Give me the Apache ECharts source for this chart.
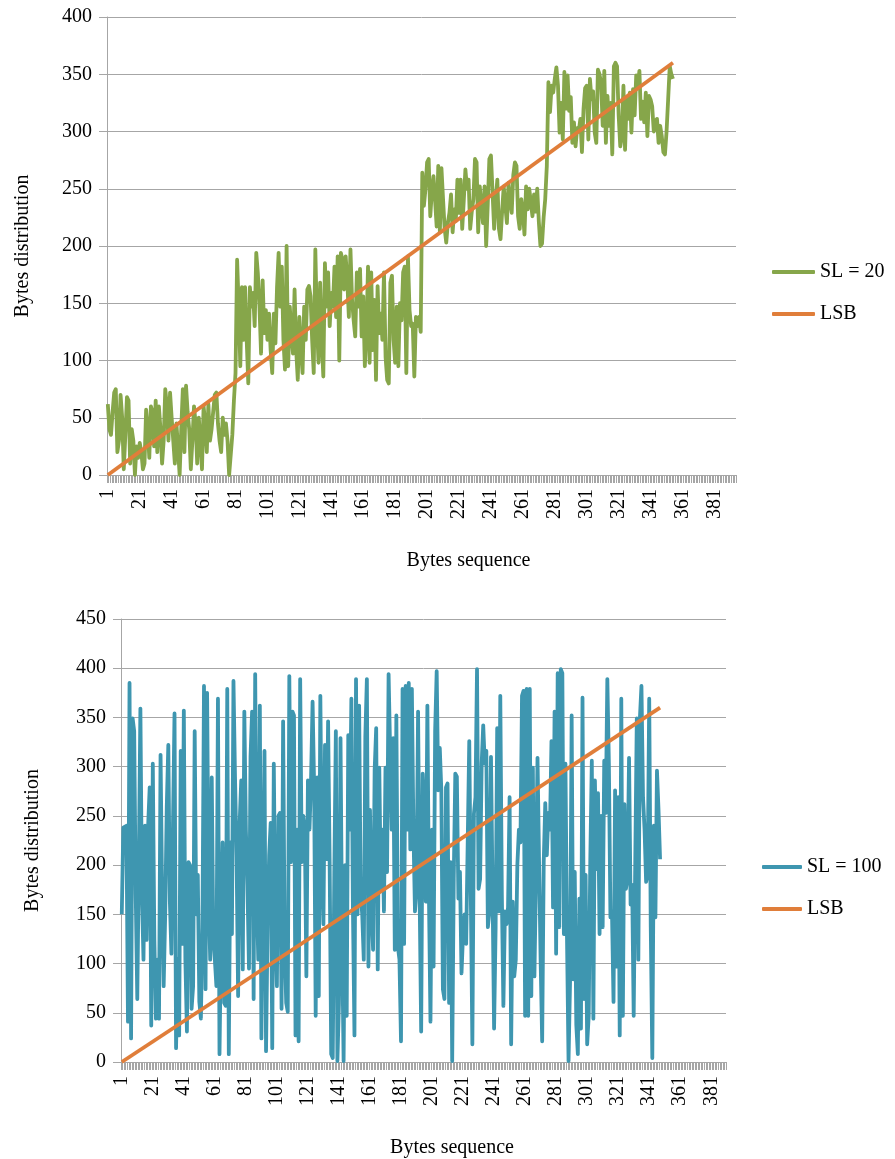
<!DOCTYPE html>
<html><head><meta charset="utf-8">
<script src="https://cdn.jsdelivr.net/npm/echarts@6/dist/echarts.min.js"></script>
<style>html,body{margin:0;padding:0;background:#fff}#c{width:895px;height:1159px}</style>
</head><body><div id="c"></div>
<script>
// ---- Data ----
const topCategoryCount = 394;     // x-axis categories (byte index) for the top chart
const bottomCategoryCount = 390;  // x-axis categories for the bottom chart
const topCategories = Array.from({length: topCategoryCount}, (_, i) => String(i + 1));
const bottomCategories = Array.from({length: bottomCategoryCount}, (_, i) => String(i + 1));

const yTicksTop = [0, 50, 100, 150, 200, 250, 300, 350, 400];
const yTicksBottom = [0, 50, 100, 150, 200, 250, 300, 350, 400, 450];

// SL = 20 (green)
const sl20 = [
  62, 40, 35, 55, 72, 75, 20, 30, 70, 50,
  5, 35, 68, 65, 10, 40, 30, 0, 25, 15,
  28, 20, 5, 10, 57, 40, 15, 60, 55, 25,
  65, 20, 60, 40, 10, 30, 75, 60, 30, 72,
  50, 30, 10, 45, 45, 0, 40, 75, 20, 78,
  55, 40, 5, 30, 60, 45, 10, 50, 30, 5,
  60, 45, 20, 62, 30, 40, 55, 70, 72, 45,
  30, 20, 50, 35, 45, 30, 0, 0, 35,
  65, 89, 188, 147, 95, 164, 118, 164, 118, 80,
  164, 147, 159, 130, 194, 176, 147, 106, 170, 124,
  144, 118, 141, 109, 89, 141, 115, 164, 194, 147,
  182, 118, 92, 200, 95, 147, 124, 106, 162, 109,
  83, 138, 109, 89, 147, 118, 162, 165, 156, 118,
  89, 197, 132, 98, 168, 118, 86, 185, 147, 177,
  130, 159, 147, 182, 138, 191, 100, 194, 188, 162,
  191, 170, 138, 197, 153, 135, 121, 177, 147, 180,
  121, 156, 95, 124, 182, 98, 177, 109, 153, 83,
  165, 124, 141, 118, 177, 103, 83, 80, 168, 174,
  118, 98, 147, 95, 150, 135, 177, 182, 89, 191,
  144, 130, 132, 86, 138, 130, 138, 125,
  264, 235, 250, 273, 276, 226, 248, 261, 240, 217,
  270, 212, 268, 241, 215, 203, 220, 229, 245, 212,
  232, 222, 258, 229, 258, 215, 240, 267, 250, 258,
  215, 230, 241, 276, 273, 212, 252, 235, 220, 252,
  200, 236, 276, 279, 247, 215, 240, 258, 215, 206,
  230, 252, 235, 220, 255, 240, 229, 262, 273, 270,
  226, 215, 241, 230, 210, 252, 232, 250, 238, 226,
  245, 230, 250, 221, 200, 202, 225, 241, 270,
  343, 317, 340, 334, 346, 356, 340, 299, 325, 293,
  352, 320, 349, 318, 330, 290, 308, 287, 303, 300,
  311, 282, 320, 338, 340, 293, 346, 328, 335, 299,
  290, 354, 350, 342, 305, 353, 290, 331, 305, 325,
  280, 357, 360, 357, 314, 287, 295, 340, 284, 328,
  311, 334, 299, 337, 314, 349, 340, 353, 311, 326,
  308, 334, 296, 331, 328, 322, 300, 309, 311, 290,
  305, 296, 282, 280, 300, 328, 357, 350, 346
];

// SL = 100 (blue)
const sl100 = [
  150, 238, 236, 240, 41, 385, 24, 349, 336, 170,
  64, 203, 359, 170, 104, 240, 124, 240, 279, 37,
  303, 124, 44, 104, 44, 312, 170, 77, 150, 259,
  322, 163, 110, 240, 354, 14, 104, 27, 316, 120,
  357, 104, 31, 203, 200, 54, 77, 336, 150, 190,
  61, 44, 137, 382, 74, 375, 170, 104, 289, 124,
  104, 77, 369, 8, 130, 223, 60, 57, 379, 8,
  223, 130, 387, 289, 210, 67, 243, 286, 94, 356,
  236, 180, 95, 310,
  356, 64, 394, 170, 104, 362, 24, 170, 316, 11,
  140, 210, 243, 14, 303, 137, 77, 250, 253, 54,
  346, 120, 60, 51, 392, 203, 356, 352, 27, 236,
  21, 389, 203, 250, 236, 87, 286, 236, 286, 366,
  280, 47, 289, 67, 372, 203, 140, 322, 206, 346,
  203, 8, 4, 190, 336, 1, 60, 329, 130, 1,
  200, 47, 332, 236, 369, 157, 27, 389, 150, 362,
  170, 150, 104, 330, 389, 97, 256, 157, 114, 296,
  339, 94, 299, 175, 236, 153, 299, 193, 394,
  392, 236, 329, 114, 352, 117, 104, 21, 379, 120,
  382, 236, 385, 216, 379, 236, 153, 176, 356, 170,
  31, 293, 250, 163, 362, 170, 41, 236, 97, 336,
  397, 276, 319, 276, 74, 64, 279, 283, 60, 203,
  1, 186, 293, 290, 166, 193, 90, 130, 150, 120,
  120, 326, 170, 18, 252, 269, 399, 176, 186, 303,
  342, 303, 316, 137, 153, 310, 176, 34, 137, 339,
  153, 372, 170, 57, 153, 140, 157, 269, 18, 163,
  87, 104, 200, 236, 223, 372, 377, 47, 379,
  47, 379, 67, 299, 87, 186, 309, 203, 104, 21,
  203, 263, 210, 253, 236, 326, 157, 356, 110, 395,
  137, 399, 395, 130, 303, 127, 1, 84, 352, 84,
  193, 38, 8, 166, 34, 370, 64, 190, 18, 47,
  203, 306, 44, 286, 196, 273, 130, 250, 137, 306,
  253, 389, 303, 147, 153, 61, 276, 97, 269, 27,
  369, 47, 262, 176, 186, 309, 160, 180, 47, 203,
  349, 104, 349, 382, 269, 236, 183, 190, 369, 137,
  4, 240, 147, 296, 256, 206
];

// LSB reference lines: straight from first to last byte
const lsbTop = [['1', 0], [String(sl20.length), 360]];
const lsbBottom = [['1', 0], [String(sl100.length), 360]];

// ---- Styles ----
const FONT = "'Liberation Serif', 'Times New Roman', serif";
const GRID = '#a6a6a6';
const GREEN = '#86a64a', ORANGE = '#e07e3a', BLUE = '#3e96b0';

function xAxis(gridIndex, cats, namePad) {
  return {
    type: 'category', gridIndex, data: cats, boundaryGap: true,
    axisLine: {lineStyle: {color: GRID, width: 1}},
    axisTick: {show: true, interval: 0, length: 8, lineStyle: {color: GRID}},
    axisLabel: {interval: 19, rotate: 90, fontFamily: FONT, fontSize: 20, color: '#000', margin: 14,
                padding: [9, 0, 0, 0]},
    name: 'Bytes sequence', nameLocation: 'middle', nameGap: 76,
    nameTextStyle: {fontFamily: FONT, fontSize: 20, color: '#000', padding: [0, 0, 0, namePad]},
    splitLine: {show: false}
  };
}
function yAxis(gridIndex, ticks, nameGap) {
  return {
    type: 'value', gridIndex, min: ticks[0], max: ticks[ticks.length - 1], interval: ticks[1] - ticks[0],
    axisLine: {show: true, lineStyle: {color: GRID}},
    axisTick: {show: true, length: 8, lineStyle: {color: GRID}},
    axisLabel: {fontFamily: FONT, fontSize: 20, color: '#000', margin: 15},
    splitLine: {show: true, lineStyle: {color: GRID, width: 1}},
    name: 'Bytes distribution', nameLocation: 'middle', nameGap,
    nameTextStyle: {fontFamily: FONT, fontSize: 20, color: '#000'}
  };
}
function line(name, data, color, xi, yi) {
  return {
    name, type: 'line', data, xAxisIndex: xi, yAxisIndex: yi,
    symbol: 'none', showSymbol: false, animation: false,
    lineStyle: {color, width: 3.8, join: 'round'}, itemStyle: {color}
  };
}

const chart = echarts.init(document.getElementById('c'), null, {renderer: 'canvas'});
chart.setOption({
  backgroundColor: '#fff',
  animation: false,
  grid: [
    {left: 107, top: 17, width: 629, height: 458},
    {left: 121, top: 619, width: 605, height: 453}
  ],
  xAxis: [xAxis(0, topCategories, 94), xAxis(1, bottomCategories, 57)],
  yAxis: [yAxis(0, yTicksTop, 74), yAxis(1, yTicksBottom, 78)],
  legend: [
    {data: ['SL = 20', 'LSB'], orient: 'vertical', left: 767, top: 257, itemWidth: 43, itemHeight: 4,
     itemGap: 22, icon: 'roundRect', textStyle: {fontFamily: FONT, fontSize: 20, color: '#000'}},
    {data: ['SL = 100', 'LSB '], orient: 'vertical', left: 757, top: 852, itemWidth: 40, itemHeight: 4,
     itemGap: 22, icon: 'roundRect', textStyle: {fontFamily: FONT, fontSize: 20, color: '#000'}}
  ],
  series: [
    line('SL = 20', sl20, GREEN, 0, 0),
    line('LSB', lsbTop, ORANGE, 0, 0),
    line('SL = 100', sl100, BLUE, 1, 1),
    line('LSB ', lsbBottom, ORANGE, 1, 1)
  ]
});
</script></body></html>
